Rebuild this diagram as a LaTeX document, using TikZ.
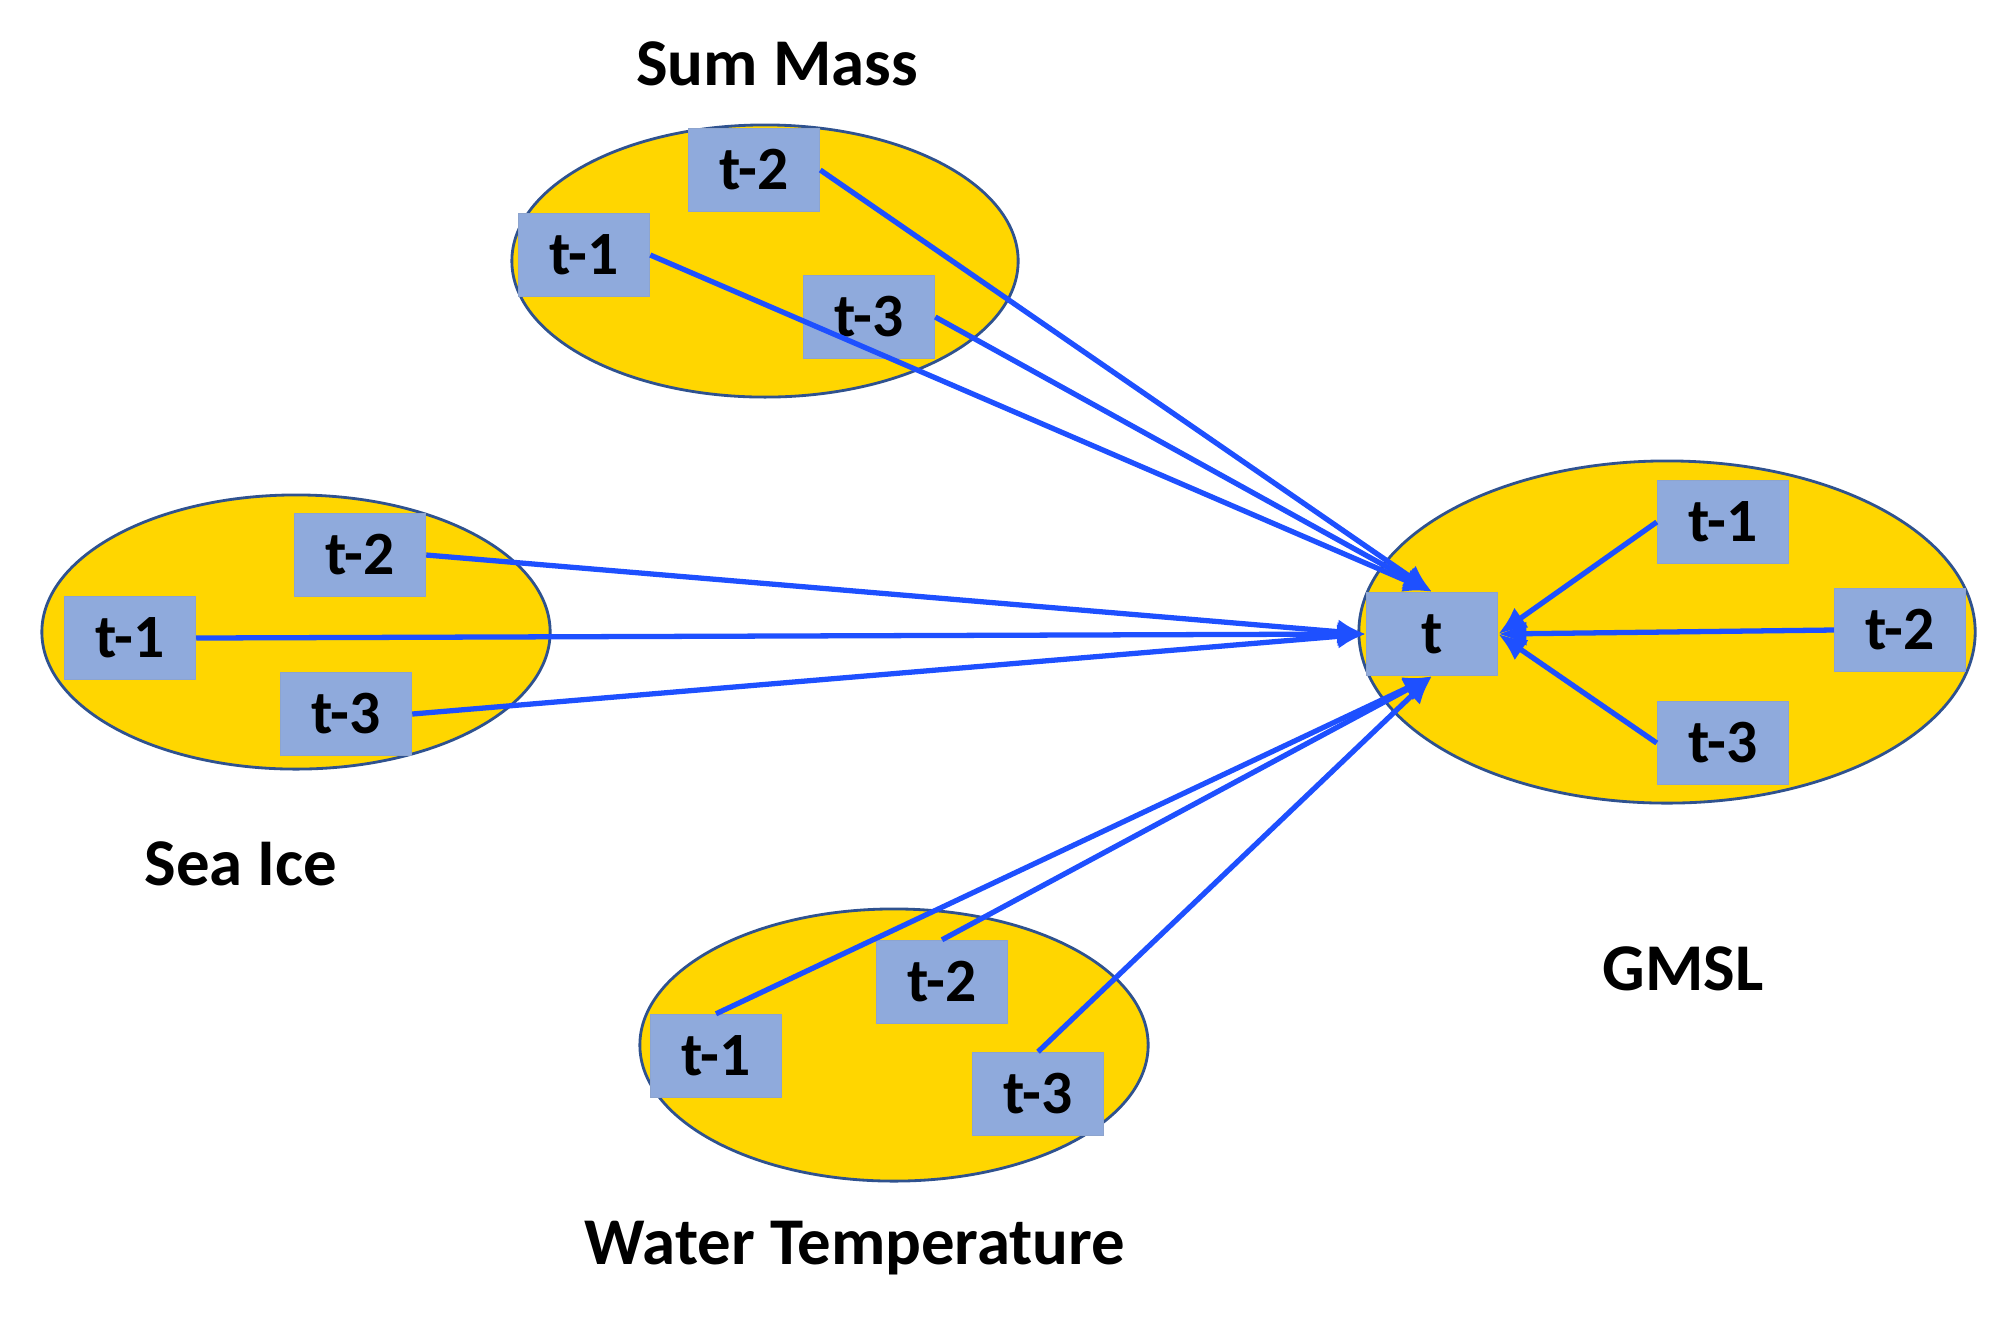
\documentclass[tikz,border=0pt]{standalone}
\usepackage{fontspec}
\setmainfont{Carlito}
\usetikzlibrary{shapes.geometric,arrows.meta}
\definecolor{goldfill}{RGB}{255,214,0}
\definecolor{ellborder}{RGB}{47,82,143}
\definecolor{boxfill}{RGB}{143,170,220}
\definecolor{arrowblue}{RGB}{30,80,255}
\begin{document}
\begin{tikzpicture}[x=0.01cm,y=-0.01cm,
  group/.style={ellipse, draw=ellborder, line width=0.8pt, fill=goldfill, inner sep=0pt},
  lagbox/.style={rectangle, fill=boxfill, draw=boxfill!85!gray, line width=0.4pt, minimum width=1.31cm, minimum height=0.83cm, inner sep=0pt, font=\fontsize{17.5}{20}\selectfont\bfseries},
  grouplabel/.style={font=\fontsize{19}{22}\selectfont\bfseries},
  link/.style={draw=arrowblue, line width=1.5pt, -{Latex[length=8pt,width=7pt]}}]
\useasboundingbox (0,0) rectangle (2007,1317);

% group ellipses
\node[group, minimum width=5.06cm, minimum height=2.72cm] (smE) at (765,261) {};
\node[group, minimum width=5.08cm, minimum height=2.74cm] (siE) at (296,632) {};
\node[group, minimum width=5.08cm, minimum height=2.72cm] (wtE) at (894,1045) {};
\node[group, minimum width=6.16cm, minimum height=3.42cm] (gmE) at (1667,632) {};

% labels
\node[grouplabel] (smL) at (777,64) {Sum Mass};
\node[grouplabel] (siL) at (241,864) {Sea Ice};
\node[grouplabel] (wtL) at (855,1248) {Water Temperature};
\node[grouplabel] (gmL) at (1683,969) {GMSL};

% Sum Mass boxes
\node[lagbox] (sm2) at (754,170) {t-2};
\node[lagbox] (sm1) at (584,255) {t-1};
\node[lagbox] (sm3) at (869,317) {t-3};

% Sea Ice boxes
\node[lagbox] (si2) at (360,555) {t-2};
\node[lagbox] (si1) at (130,638) {t-1};
\node[lagbox] (si3) at (346,714) {t-3};

% Water Temperature boxes
\node[lagbox] (wt2) at (942,982) {t-2};
\node[lagbox] (wt1) at (716,1056) {t-1};
\node[lagbox] (wt3) at (1038,1094) {t-3};

% GMSL boxes
\node[lagbox] (t) at (1432,634) {t};
\node[lagbox] (gm1) at (1723,522) {t-1};
\node[lagbox] (gm2) at (1900,630) {t-2};
\node[lagbox] (gm3) at (1723,743) {t-3};

% connectors
\draw[link] (sm2.east) -- (t.north);
\draw[link] (sm1.east) -- (t.north);
\draw[link] (sm3.east) -- (t.north);

\draw[link] (si2.east) -- (t.west);
\draw[link] (si1.east) -- (t.west);
\draw[link] (si3.east) -- (t.west);

\draw[link] (wt1.north) -- (t.south);
\draw[link] (wt2.north) -- (t.south);
\draw[link] (wt3.north) -- (t.south);

\draw[link] (gm1.west) -- (t.east);
\draw[link] (gm2.west) -- (t.east);
\draw[link] (gm3.west) -- (t.east);
\end{tikzpicture}
\end{document}
